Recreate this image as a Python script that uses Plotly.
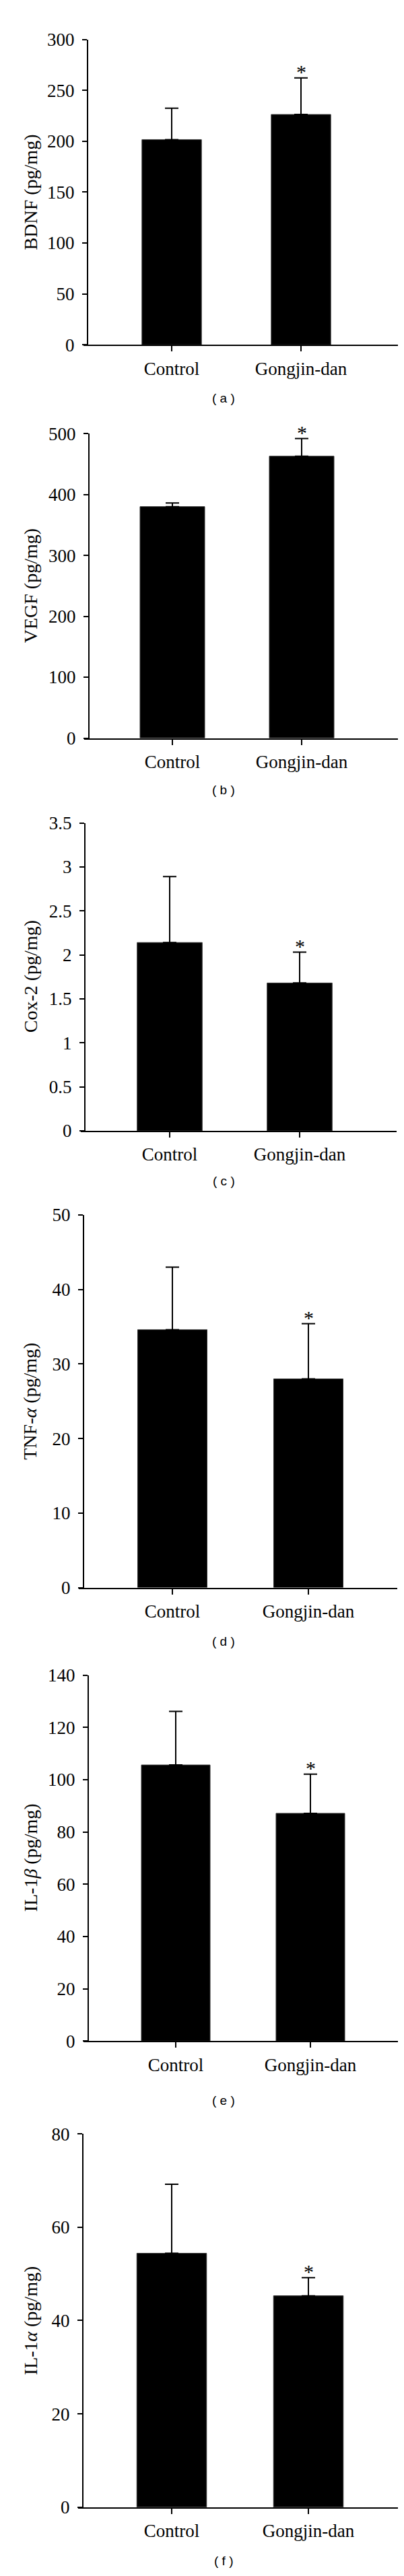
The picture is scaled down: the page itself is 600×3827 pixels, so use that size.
import plotly.graph_objects as go

# categories
groups = ["Control", "Gongjin-dan"]

# values (mean and upper SD)
bdnf_mean = [201.6, 226.3]
bdnf_err = [30.9, 36.0]
vegf_mean = [380.0, 462.8]
vegf_err = [6.0, 29.0]
cox2_mean = [2.14, 1.68]
cox2_err = [0.75, 0.35]
tnfa_mean = [34.6, 28.0]
tnfa_err = [8.4, 7.4]
il1b_mean = [105.6, 87.1]
il1b_err = [20.5, 15.0]
il1a_mean = [54.4, 45.3]
il1a_err = [14.8, 3.9]

y_titles = [
    "BDNF (pg/mg)",
    "VEGF (pg/mg)",
    "Cox-2 (pg/mg)",
    "TNF-<i>α</i> (pg/mg)",
    "IL-1<i>β</i> (pg/mg)",
    "IL-1<i>α</i> (pg/mg)",
]
y_max = [300, 500, 3.5, 50, 140, 80]
y_dtick = [50, 100, 0.5, 10, 20, 20]
panel_names = ["a", "b", "c", "d", "e", "f"]

means = [bdnf_mean, vegf_mean, cox2_mean, tnfa_mean, il1b_mean, il1a_mean]
errs = [bdnf_err, vegf_err, cox2_err, tnfa_err, il1b_err, il1a_err]

# page geometry in pixels (top tick, zero line, y-axis x, x-axis left/right,
# category centres, bar width, panel label y)
W, H = 600, 3827
geom = [
    dict(top=36, bottom=493, yx=122, xl=116, xr=583, c0=247, c1=439, bw=0.46, lab=573),
    dict(top=626, bottom=1082, yx=124, xl=117, xr=583, c0=248, c1=440, bw=0.50, lab=1160),
    dict(top=1209, bottom=1670, yx=118, xl=112, xr=581, c0=244, c1=437, bw=0.50, lab=1745),
    dict(top=1796, bottom=2354, yx=116, xl=109, xr=582, c0=248, c1=450, bw=0.51, lab=2435),
    dict(top=2485, bottom=3033, yx=123, xl=116, xr=583, c0=253, c1=453, bw=0.51, lab=3122),
    dict(top=3172, bottom=3731, yx=115, xl=108, xr=583, c0=247, c1=450, bw=0.51, lab=3811),
]

serif = "Liberation Serif"
sans = "Liberation Sans"

fig = go.Figure()
annotations = []
layout_axes = {}

for i, g in enumerate(geom):
    n = "" if i == 0 else str(i + 1)
    xref, yref = "x" + n, "y" + n

    fig.add_trace(
        go.Bar(
            x=groups,
            y=means[i],
            width=g["bw"],
            marker=dict(color="black", line=dict(color="#333333", width=1)),
            error_y=dict(
                type="data",
                array=errs[i],
                arrayminus=[0, 0],
                symmetric=False,
                color="black",
                thickness=2,
                width=10,
            ),
            xaxis=xref,
            yaxis=yref,
            showlegend=False,
        )
    )

    spacing = g["c1"] - g["c0"]
    xrange = [-(g["c0"] - g["xl"]) / spacing, 1 + (g["xr"] - g["c1"]) / spacing]

    layout_axes["xaxis" + n] = dict(
        domain=[g["xl"] / W, g["xr"] / W],
        anchor=yref,
        type="category",
        range=xrange,
        showline=True,
        linecolor="black",
        linewidth=2,
        ticks="outside",
        ticklen=8,
        tickwidth=2,
        tickcolor="black",
        ticklabelstandoff=2,
        tickfont=dict(family=serif, size=27, color="black"),
        showgrid=False,
        zeroline=False,
    )
    layout_axes["yaxis" + n] = dict(
        domain=[1 - g["bottom"] / H, 1 - g["top"] / H],
        anchor="free",
        position=g["yx"] / W,
        range=[0, y_max[i]],
        dtick=y_dtick[i],
        tick0=0,
        showline=True,
        linecolor="black",
        linewidth=2,
        ticks="outside",
        ticklen=7,
        tickwidth=2,
        tickcolor="black",
        ticklabelstandoff=6,
        tickfont=dict(family=serif, size=27, color="black"),
        showgrid=False,
        zeroline=False,
    )

    # y title
    annotations.append(
        dict(
            text=y_titles[i],
            xref="paper",
            yref="paper",
            x=37 / W,
            y=1 - (g["top"] + g["bottom"]) / 2 / H,
            textangle=-90,
            xanchor="center",
            yanchor="middle",
            showarrow=False,
            font=dict(family=serif, size=28, color="black"),
        )
    )
    # significance star
    annotations.append(
        dict(
            text="*",
            xref=xref,
            yref=yref,
            x=groups[1],
            y=means[i][1] + errs[i][1],
            xanchor="center",
            yanchor="bottom",
            yshift=-9,
            showarrow=False,
            font=dict(family=serif, size=30, color="black"),
        )
    )
    # panel label
    annotations.append(
        dict(
            text="( " + panel_names[i] + " )",
            xref="paper",
            yref="paper",
            x=324 / W,
            y=1 - g["lab"] / H,
            xanchor="center",
            yanchor="middle",
            showarrow=False,
            font=dict(family=sans, size=19, color="black"),
        )
    )

fig.update_layout(
    width=W,
    height=H,
    margin=dict(l=0, r=0, t=0, b=0),
    paper_bgcolor="white",
    plot_bgcolor="white",
    annotations=annotations,
    **layout_axes,
)

fig.write_html("out.html")
